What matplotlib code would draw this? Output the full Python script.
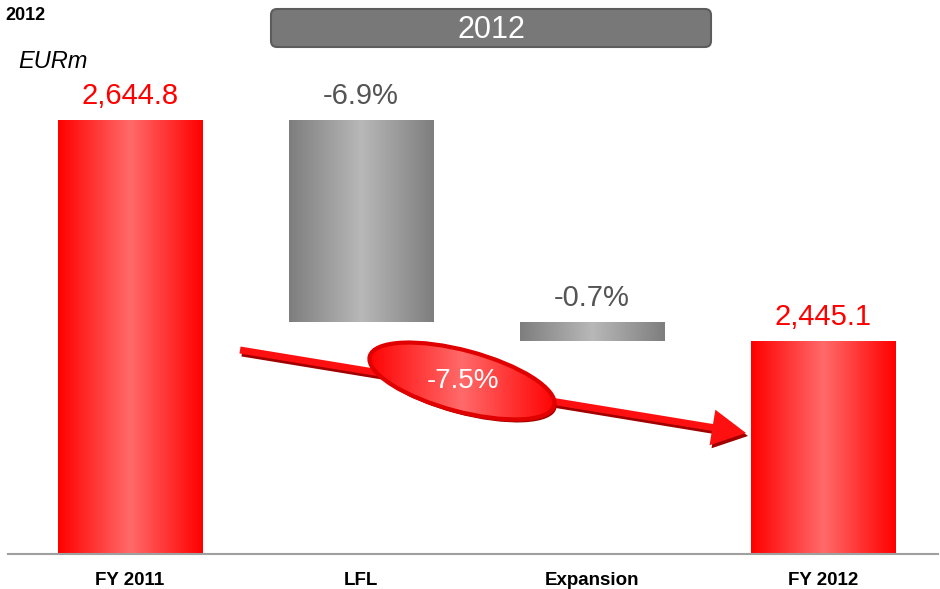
import numpy as np
import matplotlib
matplotlib.use("Agg")
import matplotlib.pyplot as plt
from matplotlib.colors import LinearSegmentedColormap
from matplotlib.patches import Ellipse, FancyBboxPatch, FancyArrow

plt.rcParams['font.family'] = ['Liberation Sans', 'DejaVu Sans']

# sales bridge, EURm
categories = ['FY 2011', 'LFL', 'Expansion', 'FY 2012']
start_value = 2644.8
lfl_change = -182.5
expansion_change = -17.2
end_value = 2445.1
value_labels = ['2,644.8', '-6.9%', '-0.7%', '2,445.1']
total_change_label = '-7.5%'
header_label = '2012'

y_floor = 2252.6
tops = [start_value, start_value, start_value + lfl_change, end_value]
bottoms = [y_floor, start_value + lfl_change, start_value + lfl_change + expansion_change, y_floor]

red_map = LinearSegmentedColormap.from_list('red', ['#ff0000', '#ff6a6a', '#ff0000'])
grey_map = LinearSegmentedColormap.from_list('grey', ['#7e7e7e', '#b8b8b8', '#7e7e7e'])
bar_maps = [red_map, grey_map, grey_map, red_map]
label_colors = ['#ff0000', '#555555', '#555555', '#ff0000']

fig = plt.figure(figsize=(9.4, 5.89), dpi=100)
ax = fig.add_axes([8 / 940, 35 / 589, 930 / 940, 494 / 589])
x = np.arange(len(categories))
width = 0.625
heights = [t - b for t, b in zip(tops, bottoms)]
bars = ax.bar(x, heights, width, bottom=bottoms, color='none', edgecolor='none')

grad = np.linspace(0, 1, 256).reshape(1, -1)
for bar, cmap in zip(bars, bar_maps):
    x0, y0 = bar.get_x(), bar.get_y()
    im = ax.imshow(grad, cmap=cmap, aspect='auto', interpolation='bicubic',
                   extent=(x0, x0 + bar.get_width(), y0, y0 + bar.get_height()))
    im.set_clip_path(bar)

for xi, top, lab, col in zip(x, tops, value_labels, label_colors):
    ax.text(xi, top + 9, lab, ha='center', va='bottom', fontsize=21, color=col)

ax.set_xlim(-0.528, 3.498)
ax.set_ylim(y_floor, y_floor + 494 / 1.1067)
ax.set_xticks(x)
ax.set_xticklabels(categories, fontsize=13.5, fontweight='bold')
ax.tick_params(axis='x', length=0, pad=13)
ax.set_yticks([])
for side in ['top', 'right', 'left']:
    ax.spines[side].set_visible(False)
ax.spines['bottom'].set_color('#a0a0a0')
ax.spines['bottom'].set_linewidth(1.5)

# overlay in pixel units for the header box, arrow and ellipse
ov = fig.add_axes([0, 0, 1, 1], facecolor='none')
ov.set_xlim(0, 940)
ov.set_ylim(589, 0)
ov.axis('off')

ov.text(5, 16, header_label, fontsize=13, fontweight='bold', va='center', ha='left')
ov.text(18, 62, 'EURm', fontsize=17, fontstyle='italic', va='center', ha='left')

box = FancyBboxPatch((271, 9), 440, 38, boxstyle='round,pad=0,rounding_size=6',
                     facecolor='#787878', edgecolor='#5c5c5c', linewidth=1.5)
ov.add_patch(box)
ov.text(491, 30, header_label, fontsize=22, color='white', ha='center', va='center')

# trend arrow with a dark drop shadow
ax0, ay0, ax1, ay1 = 240, 350, 746, 433
dx, dy = ax1 - ax0, ay1 - ay0
for off, col in [((2, 3), '#a00000'), ((0, 0), '#ff1010')]:
    ov.add_patch(FancyArrow(ax0 + off[0], ay0 + off[1], dx, dy, width=7,
                            head_width=36, head_length=34, length_includes_head=True,
                            color=col, linewidth=0))

ell_shadow = Ellipse((464, 384), 191, 61, angle=15, facecolor='#a00000',
                     edgecolor='none', zorder=2)
ov.add_patch(ell_shadow)
ell = Ellipse((462, 381), 191, 61, angle=15, facecolor='none', edgecolor='#e00000',
              linewidth=3, zorder=4)
im = ov.imshow(grad, cmap=red_map, aspect='auto', interpolation='bicubic',
               extent=(366, 558, 420, 342), zorder=3)
ov.add_patch(ell)
im.set_clip_path(ell)
ov.text(463, 381, total_change_label, fontsize=20, color='white', ha='center',
        va='center', zorder=5)
ov.set_xlim(0, 940)
ov.set_ylim(589, 0)

fig.savefig('out.png', dpi=100)
